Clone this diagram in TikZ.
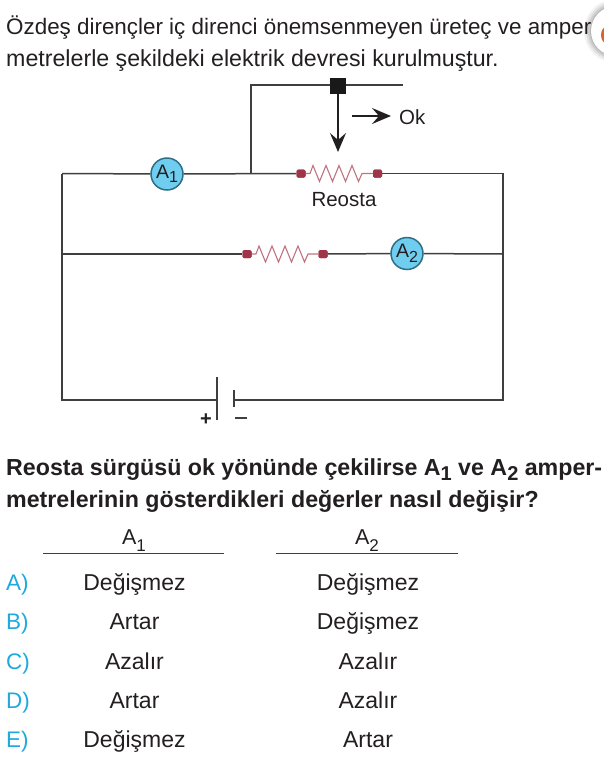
\documentclass[tikz,border=0pt]{standalone}
\usepackage{fontspec}
\setmainfont{Liberation Sans}
\usetikzlibrary{arrows.meta}
\definecolor{wirec}{HTML}{3F3F41}
\definecolor{resc}{HTML}{A03448}
\definecolor{zigc}{HTML}{BE7480}
\definecolor{amc}{HTML}{6FCDF0}
\definecolor{amb}{HTML}{2F6F86}
\definecolor{cyanc}{HTML}{1FA9DC}
\definecolor{txt}{HTML}{231F20}
\definecolor{badgeo}{HTML}{D8632F}
\newcommand{\subnum}[1]{\raisebox{-4.5pt}{\fontsize{16}{16}\selectfont #1}}
\newcommand{\subhead}[1]{\raisebox{-7pt}{\fontsize{17}{17}\selectfont #1}}
\newcommand{\subbold}[1]{\raisebox{-5pt}{\fontsize{20}{20}\bfseries\selectfont #1}}
\tikzset{
  x=1pt,y=-1pt,
  wire/.style={draw=wirec,line width=1.5pt},
  term/.style={draw=none,fill=resc,minimum width=9pt,minimum height=8pt,inner sep=0pt,rounded corners=1.5pt},
  zig/.style={draw=zigc,line width=1.1pt},
  ammeter/.style={circle,draw=amb,fill=amc,line width=1.5pt,minimum size=32pt,inner sep=0pt,font=\fontsize{19.5}{20}\selectfont,text=txt},
  slider/.style={draw=none,fill=black!90,minimum size=15.5pt,inner sep=0pt},
  para/.style={anchor=base west,inner sep=0pt,text=txt,font=\fontsize{22.4}{24}\selectfont},
  paralong/.style={para,font=\fontsize{23.2}{24}\selectfont},
  boldp/.style={para,font=\fontsize{23.2}{24}\bfseries\selectfont},
  lab/.style={anchor=base,inner sep=0pt,text=txt,font=\fontsize{20.5}{24}\selectfont},
  cell/.style={lab,font=\fontsize{23}{24}\selectfont},
  headcell/.style={lab,font=\fontsize{21.5}{24}\selectfont},
  opt/.style={anchor=base west,inner sep=0pt,text=cyanc,font=\fontsize{22.5}{24}\selectfont},
  rule/.style={draw=wirec,line width=1.2pt},
  arr/.style={draw=txt,line width=1.5pt,-{Stealth[length=19pt,width=16pt,inset=7pt]}}
}
\begin{document}
\begin{tikzpicture}
\useasboundingbox (0,0) rectangle (604,764);
% badge at the right edge
\foreach \r/\o in {32/.05,30/.07,28/.09,26/.12}{\fill[black,opacity=\o] (616,31) circle (\r);}
\fill[white] (616,31) circle (25);
\fill[badgeo] (608,35) ellipse (7 and 9);
% texts
\node[para] (t1) at (6,34) {Özdeş dirençler iç direnci önemsenmeyen üreteç ve amper};
\node[paralong] (t2) at (6,66) {metrelerle şekildeki elektrik devresi kurulmuştur.};
% corners and junction points
\coordinate (tl) at (62,173.5);
\coordinate (tr) at (503,173.5);
\coordinate (ml) at (62,254);
\coordinate (mr) at (503,254);
\coordinate (bl) at (62,400);
\coordinate (br) at (503,400);
\coordinate (jn) at (251,173.5);
\coordinate (ju) at (251,85);
\coordinate (wend) at (403,85);
\coordinate (tip) at (338,152);
\coordinate (okl) at (352,116);
\coordinate (okr) at (391,116);
% components
\node[slider] (sl) at (338,86) {};
\node[term] (r1a) at (301,173.5) {};
\node[term] (r1b) at (377.5,173.5) {};
\node[term] (r2a) at (247,254) {};
\node[term] (r2b) at (323,254) {};
\node[ammeter] (a1) at (167,174) {A\subnum{1}};
\node[ammeter] (a2) at (407,253.5) {A\subnum{2}};
\coordinate (bp1) at (217,377);
\coordinate (bp2) at (217,420);
\coordinate (bm1) at (234,390);
\coordinate (bm2) at (234,407);
\coordinate (bpw) at (217,400);
\coordinate (bmw) at (234,400);
% wires
\draw[wire] (tl) -- (a1);
\draw[wire] (tl) -- (ml) -- (bl) -- (bpw);
\draw[wire] (a1) -- (r1a);
\draw[wire] (r1b) -- (tr) -- (br) -- (bmw);
\draw[wire] (ml) -- (r2a);
\draw[wire] (r2b) -- (a2);
\draw[wire] (a2) -- (mr);
\draw[wire] (jn) -- (ju) -- (sl.west |- ju);
\draw[wire] (sl.east |- wend) -- (wend);
\draw[wire] (bp1) -- (bp2);
\draw[wire] (bm1) -- (bm2);
% zigzags
\draw[zig] (r1a) -- ++(9,0) -- ++(3,-8) -- ++(6.5,16) -- ++(6.5,-16) -- ++(6.5,16) -- ++(6.5,-16) -- ++(6.5,16) -- ++(6.5,-16) -- ++(6.5,16) -- ++(3.5,-8) -- (r1b);
\draw[zig] (r2a) -- ++(9,0) -- ++(3,-8) -- ++(6.5,16) -- ++(6.5,-16) -- ++(6.5,16) -- ++(6.5,-16) -- ++(6.5,16) -- ++(6.5,-16) -- ++(6.5,16) -- ++(3.5,-8) -- (r2b);
\node[term] at (r1a) {};
\node[term] at (r1b) {};
\node[term] at (r2a) {};
\node[term] at (r2b) {};
% arrows
\draw[arr] (sl) -- (tip);
\draw[arr] (okl) -- (okr);
\node[lab,anchor=base west] (ok) at (399,124) {Ok};
\node[lab] (reo) at (344,206) {Reosta};
\node[lab,font=\fontsize{20}{24}\bfseries\selectfont] (plus) at (206,425) {+};
\draw[wire] (235,418) -- (246.5,418);
% question
\node[boldp] (q1) at (6,475) {Reosta sürgüsü ok yönünde çekilirse A\subbold{1} ve A\subbold{2} amper-};
\node[boldp] (q2) at (6,507) {metrelerinin gösterdikleri değerler nasıl değişir?};
% table
\node[headcell] (h1) at (134,544) {A\subhead{1}};
\node[headcell] (h2) at (367,544) {A\subhead{2}};
\draw[rule] (43,553.5) -- (224,553.5);
\draw[rule] (276,553.5) -- (458,553.5);
\node[opt] at (6,590) {A)};
\node[opt] at (6,629) {B)};
\node[opt] at (6,669) {C)};
\node[opt] at (6,708) {D)};
\node[opt] at (6,747) {E)};
\node[cell] at (134.5,590) {Değişmez};
\node[cell] at (134.5,629) {Artar};
\node[cell] at (134.5,669) {Azalır};
\node[cell] at (134.5,708) {Artar};
\node[cell] at (134.5,747) {Değişmez};
\node[cell] at (368,590) {Değişmez};
\node[cell] at (368,629) {Değişmez};
\node[cell] at (368,669) {Azalır};
\node[cell] at (368,708) {Azalır};
\node[cell] at (368,747) {Artar};
\end{tikzpicture}
\end{document}
